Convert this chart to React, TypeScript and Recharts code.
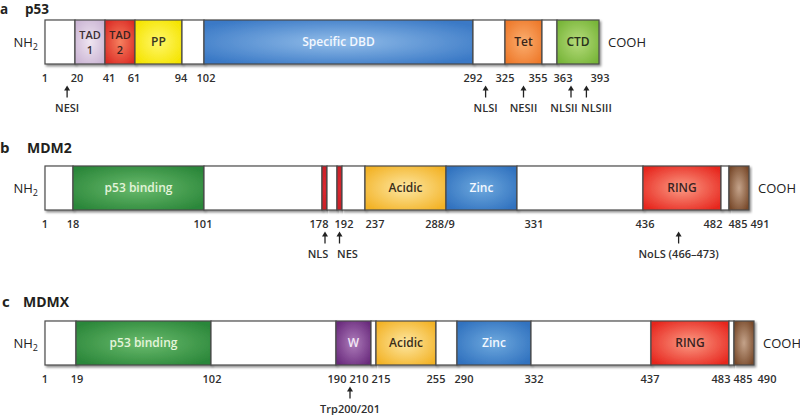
import React from 'react';
import { BarChart, Bar, XAxis, YAxis, LabelList } from 'recharts';

// ---- p53 ----
const p53Domains = ['', 'TAD 1', 'TAD 2', 'PP', '', 'Specific DBD', '', 'Tet', '', 'CTD'];
const p53Residues = [1, 20, 41, 61, 94, 102, 292, 325, 355, 363, 393];
// drawn (schematic) length of each segment, the figure is not to scale
const p53Spans = [30, 30, 30, 47, 22, 269, 32, 37, 15, 42];
const p53Ticks = [1, 20, 41, 61, 94, 102, 292, 325, 355, 363, 393];
const p53TickLabels = ['1', '20', '41', '61', '94', '102', '292', '325', '355', '363', '393'];
const p53Markers = ['NESI', 'NLSI', 'NESII', 'NLSII', 'NLSIII'];
const p53MarkerResidues = [15, 305, 340, 373, 384];

// ---- MDM2 ----
const mdm2Domains = ['', 'p53 binding', '', 'NLS', '', 'NES', '', 'Acidic', 'Zinc', '', 'RING', '', 'Tail'];
const mdm2Residues = [1, 18, 101, 178, 181, 192, 195, 237, 289, 331, 436, 482, 485, 491];
const mdm2Spans = [28, 131, 118, 5, 10, 5, 23, 81, 71, 126, 78, 8, 20];
const mdm2Ticks = [1, 18, 101, 178, 192, 237, 289, 331, 436, 482, 485, 491];
const mdm2TickLabels = ['1', '18', '101', '178', '192', '237', '288/9', '331', '436', '482', '485', '491'];
const mdm2Markers = ['NLS', 'NES', 'NoLS (466–473)'];
const mdm2MarkerResidues = [179.8, 193.5, 457];

// ---- MDMX ----
const mdmxDomains = ['', 'p53 binding', '', 'W', '', 'Acidic', '', 'Zinc', '', 'RING', '', 'Tail'];
const mdmxResidues = [1, 19, 102, 190, 210, 215, 255, 290, 332, 437, 483, 485, 490];
const mdmxSpans = [31, 135, 125, 35, 5, 60, 21, 74, 120, 78, 5, 20];
const mdmxTicks = [1, 19, 102, 190, 210, 215, 255, 290, 332, 437, 483, 485, 490];
const mdmxTickLabels = ['1', '19', '102', '190', '210', '215', '255', '290', '332', '437', '483', '485', '490'];
const mdmxMarkers = ['Trp200/201'];
const mdmxMarkerResidues = [198];

const FONT = '"Open Sans", "DejaVu Sans", sans-serif';

const STYLE: Record<string, { light: string; dark: string; text: string | null }> = {
  '': { light: '#ffffff', dark: '#ffffff', text: null },
  'TAD 1': { light: '#efe5f1', dark: '#cbb5d4', text: '#3b3035' },
  'TAD 2': { light: '#f6805f', dark: '#db2c25', text: '#3b2220' },
  PP: { light: '#fff76a', dark: '#f5e400', text: '#3b3620' },
  'Specific DBD': { light: '#92bde9', dark: '#3a79c6', text: '#f3f8ff' },
  Tet: { light: '#fbae70', dark: '#ee792a', text: '#3b2518' },
  CTD: { light: '#b6dc7c', dark: '#78b539', text: '#28321a' },
  'p53 binding': { light: '#6abb6d', dark: '#2b873a', text: '#e4f4da' },
  NLS: { light: '#dc2a31', dark: '#c61d26', text: null },
  NES: { light: '#dc2a31', dark: '#c61d26', text: null },
  Acidic: { light: '#fde7a2', dark: '#f3b327', text: '#3b2e18' },
  Zinc: { light: '#6ea9de', dark: '#3172bf', text: '#f3f8ff' },
  RING: { light: '#fb9a84', dark: '#e7281f', text: '#3b2220' },
  W: { light: '#ad7cba', dark: '#6a2b7d', text: '#f2e6f5' },
  Tail: { light: '#c4a38a', dark: '#774829', text: null },
};

// small nudges so neighbouring labels do not collide (as in the figure)
const TICK_SHIFT: Record<string, number[]> = {
  p53: [0, 2, 4, -1, -1, 2, 0, 0, -4, 6, 1],
  mdm2: [0, 0, -1, -3, 7, 10, -6, 17, 2, -8, 9, 11],
  mdmx: [0, 1, 1, 1, -12, 5, 0, 7, 3, -1, -8, 9, 13],
};
const MARKER_SHIFT: Record<string, number[]> = {
  p53: [0, 0, 0, -7, 10],
  mdm2: [-7, 8, 0],
  mdmx: [0],
};

interface TrackProps {
  id: string;
  top: number;
  domains: string[];
  residues: number[];
  spans: number[];
  ticks: number[];
  tickLabels: string[];
  markers: string[];
  markerResidues: number[];
}

const Track: React.FC<TrackProps> = ({ id, top, domains, residues, spans, ticks, tickLabels, markers, markerResidues }) => {
  const cum = [0];
  spans.forEach((s) => cum.push(cum[cum.length - 1] + s));
  const total = cum[cum.length - 1];

  // residue number -> position on the schematic axis
  const toPos = (r: number) => {
    for (let i = 0; i < residues.length - 1; i++) {
      if (r <= residues[i + 1]) {
        return cum[i] + ((r - residues[i]) / (residues[i + 1] - residues[i])) * (cum[i + 1] - cum[i]);
      }
    }
    return total;
  };

  const row: Record<string, number | string> = { name: id };
  spans.forEach((s, i) => (row[`s${i}`] = s));

  const tickPos = ticks.map(toPos);
  const markerPos = markerResidues.map(toPos);
  const tickShift = TICK_SHIFT[id];
  const markerShift = MARKER_SHIFT[id];

  // one axis carries both the residue numbers and the arrow markers
  const AxisTick = (p: any) => {
    const v = p.payload?.value;
    const ti = tickPos.indexOf(v);
    const mi = markerPos.indexOf(v);
    return (
      <g>
        {ti >= 0 && (
          <text
            x={p.x + (tickShift[ti] ?? 0)}
            y={p.y + 17.5}
            textAnchor="middle"
            fontFamily={FONT}
            fontSize={11}
            fontWeight={600}
            fill="#2f2f2f"
          >
            {tickLabels[ti]}
          </text>
        )}
        {mi >= 0 && (
          <g>
            <line x1={p.x} x2={p.x} y1={p.y + 25} y2={p.y + 33.5} stroke="#222" strokeWidth={1.3} />
            <path d={`M${p.x - 3},${p.y + 26.5} L${p.x},${p.y + 21.5} L${p.x + 3},${p.y + 26.5} Z`} fill="#222" />
            <text
              x={p.x + (markerShift[mi] ?? 0)}
              y={p.y + 48}
              textAnchor="middle"
              fontFamily={FONT}
              fontSize={11}
              fontWeight={600}
              fill="#2f2f2f"
            >
              {markers[mi]}
            </text>
          </g>
        )}
      </g>
    );
  };

  const renderLabel = (i: number) => (p: any) => {
    const vb = p.viewBox ?? p;
    const x = Number(vb.x);
    const y = Number(vb.y);
    const w = Number(vb.width);
    const h = Number(vb.height);
    const name = domains[i];
    const st = STYLE[name];
    const cx = x + w / 2;
    const cy = y + h / 2;
    const out: React.ReactNode[] = [];
    if (st.text) {
      if (name.startsWith('TAD')) {
        const [a, b] = name.split(' ');
        out.push(
          <text key="l1" x={cx} y={cy - 3} textAnchor="middle" fontFamily={FONT} fontSize={11} fontWeight={600} fill={st.text}>
            {a}
          </text>,
          <text key="l2" x={cx} y={cy + 12} textAnchor="middle" fontFamily={FONT} fontSize={11} fontWeight={600} fill={st.text}>
            {b}
          </text>
        );
      } else {
        out.push(
          <text key="l" x={cx} y={cy + 4} textAnchor="middle" fontFamily={FONT} fontSize={12} fontWeight={600} fill={st.text}>
            {name}
          </text>
        );
      }
    }
    if (i === 0) {
      out.push(
        <text key="nh" x={x - 7} y={cy + 5} textAnchor="end" fontFamily={FONT} fontSize={13} fill="#222">
          NH<tspan fontSize={9} dy={3}>2</tspan>
        </text>
      );
    }
    if (i === spans.length - 1) {
      out.push(
        <text key="cooh" x={x + w + 9} y={cy + 4.5} textAnchor="start" fontFamily={FONT} fontSize={13} fill="#222">
          COOH
        </text>
      );
    }
    return <g>{out}</g>;
  };

  const Segment = (p: any) => (
    <rect
      x={p.x}
      y={p.y}
      width={p.width}
      height={p.height}
      fill={p.fill}
      stroke="#4a4a4a"
      strokeWidth={1.2}
      filter={`url(#${id}-shadow)`}
    />
  );

  return (
    <div style={{ position: 'absolute', left: 0, top, width: 800, height: 120 }}>
      <BarChart
        width={800}
        height={120}
        data={[row]}
        layout="vertical"
        barCategoryGap={0}
        barGap={0}
        margin={{ top: 20, left: 45, right: 800 - 45 - total, bottom: 2 }}
      >
        <defs>
          <filter id={`${id}-shadow`} x="-10%" y="-20%" width="130%" height="160%">
            <feDropShadow dx={1.5} dy={1.8} stdDeviation={1} floodColor="#000" floodOpacity={0.45} />
          </filter>
          {domains.map((d, i) => (
            <radialGradient key={i} id={`${id}-g${i}`} cx="50%" cy="50%" r="62%">
              <stop offset="0%" stopColor={STYLE[d].light} />
              <stop offset="100%" stopColor={STYLE[d].dark} />
            </radialGradient>
          ))}
        </defs>
        <YAxis type="category" dataKey="name" hide />
        <XAxis
          xAxisId="res"
          type="number"
          domain={[0, total]}
          ticks={[...tickPos, ...markerPos]}
          interval={0}
          axisLine={false}
          tickLine={false}
          tickSize={0}
          tickMargin={0}
          height={54}
          tick={AxisTick}
        />
        {spans.map((_, i) => (
          <Bar
            key={i}
            dataKey={`s${i}`}
            stackId="p"
            xAxisId="res"
            fill={`url(#${id}-g${i})`}
            isAnimationActive={false}
            shape={Segment}
          >
            <LabelList dataKey={`s${i}`} content={renderLabel(i)} />
          </Bar>
        ))}
      </BarChart>
    </div>
  );
};

const Titles = () => (
  <svg width={800} height={415} style={{ position: 'absolute', left: 0, top: 0, pointerEvents: 'none' }}>
    <g fontFamily={FONT} fontWeight={700} fill="#231f20">
      <text x={0} y={13.5} fontSize={13.5}>a</text>
      <text x={25} y={13.5} fontSize={13.5}>p53</text>
      <text x={0} y={153} fontSize={15}>b</text>
      <text x={27} y={153} fontSize={14}>MDM2</text>
      <text x={2} y={307} fontSize={15}>c</text>
      <text x={23} y={307} fontSize={14}>MDMX</text>
    </g>
  </svg>
);

export default function App() {
  return (
    <div style={{ position: 'absolute', left: 0, top: 0, width: 800, height: 415, overflow: 'hidden', background: '#fff' }}>
      <Track
        id="p53"
        top={0}
        domains={p53Domains}
        residues={p53Residues}
        spans={p53Spans}
        ticks={p53Ticks}
        tickLabels={p53TickLabels}
        markers={p53Markers}
        markerResidues={p53MarkerResidues}
      />
      <Track
        id="mdm2"
        top={146}
        domains={mdm2Domains}
        residues={mdm2Residues}
        spans={mdm2Spans}
        ticks={mdm2Ticks}
        tickLabels={mdm2TickLabels}
        markers={mdm2Markers}
        markerResidues={mdm2MarkerResidues}
      />
      <Track
        id="mdmx"
        top={301}
        domains={mdmxDomains}
        residues={mdmxResidues}
        spans={mdmxSpans}
        ticks={mdmxTicks}
        tickLabels={mdmxTickLabels}
        markers={mdmxMarkers}
        markerResidues={mdmxMarkerResidues}
      />
      <Titles />
    </div>
  );
}
